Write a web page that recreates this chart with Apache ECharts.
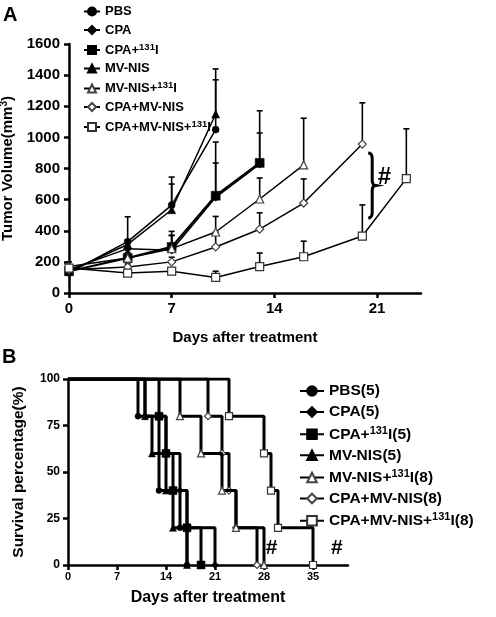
<!DOCTYPE html>
<html><head><meta charset="utf-8">
<script src="https://cdn.jsdelivr.net/npm/echarts@6/dist/echarts.min.js"></script>
<style>html,body{margin:0;padding:0;background:#fff}#c{width:496px;height:617px}</style>
</head><body><div id="c"></div>
<script>
// ---------- Panel A: tumor volume ----------
const daysA = [0, 4, 7, 10, 13, 16, 20, 23];
const namesA = ['PBS','CPA','CPA+131I','MV-NIS','MV-NIS+131I','CPA+MV-NIS','CPA+MV-NIS+131I'];
const pbsVol = [130, 330, 565, 1050];
const pbsErr = [20, 160, 180, 320];
const cpaVol = [150, 285, 275, 615, 828];
const cpaErr = [15, 40, 95, 220, 200];
const cpa131Vol = [140, 225, 296, 625, 836];
const cpa131Err = [20, 60, 100, 345, 335];
const mvVol = [140, 312, 535, 1150];
const mvErr = [15, 30, 165, 290];
const mv131Vol = [170, 225, 285, 392, 604, 823];
const mv131Err = [30, 35, 85, 100, 135, 300];
const cpaMvVol = [150, 167, 200, 296, 410, 578, 957];
const cpaMvErr = [10, 20, 30, 95, 105, 155, 265];
const cpaMv131Vol = [160, 128, 140, 100, 170, 233, 366, 735];
const cpaMv131Err = [20, 15, 20, 40, 87, 100, 200, 320];
const ticksA = [0, 7, 14, 21];

// ---------- Panel B: survival ----------
const namesB = ['PBS(5)','CPA(5)','CPA+131I(5)','MV-NIS(5)','MV-NIS+131I(8)','CPA+MV-NIS(8)','CPA+MV-NIS+131I(8)'];
const pbsT = [0, 10, 13, 16, 17],            pbsS = [100, 80, 40, 20, 0];
const cpaT = [0, 11, 14, 16, 17, 21],        cpaS = [100, 80, 60, 40, 20, 0];
const cpa131T = [0, 13, 14, 15, 17, 19],     cpa131S = [100, 80, 60, 40, 20, 0];
const mvT = [0, 11, 12, 14, 15, 17],         mvS = [100, 80, 60, 40, 20, 0];
const mv131T = [0, 16, 19, 22, 24, 28],      mv131S = [100, 80, 60, 40, 20, 0];
const cpaMvT = [0, 20, 22, 23, 24, 27],      cpaMvS = [100, 80, 60, 40, 20, 0];
const cpaMv131T = [0, 23, 28, 29, 30, 35],   cpaMv131S = [100, 80, 60, 40, 20, 0];
const ticksB = [0, 7, 14, 21, 28, 35];

const FONT = '"Liberation Sans", Arial, sans-serif';
const styles = [
  {symbol:'circle', size:7, fill:'#000', stroke:'#000'},
  {symbol:'diamond', size:8, fill:'#000', stroke:'#000'},
  {symbol:'rect', size:9, fill:'#000', stroke:'#000'},
  {symbol:'triangle', size:8, fill:'#000', stroke:'#000'},
  {symbol:'triangle', size:8, fill:'#fff', stroke:'#444'},
  {symbol:'diamond', size:8, fill:'#fff', stroke:'#444'},
  {symbol:'rect', size:8, fill:'#fff', stroke:'#333'}
];
const volsA = [pbsVol, cpaVol, cpa131Vol, mvVol, mv131Vol, cpaMvVol, cpaMv131Vol];
const errsA = [pbsErr, cpaErr, cpa131Err, mvErr, mv131Err, cpaMvErr, cpaMv131Err];
const Ts = [pbsT, cpaT, cpa131T, mvT, mv131T, cpaMvT, cpaMv131T];
const Ss = [pbsS, cpaS, cpa131S, mvS, mv131S, cpaMvS, cpaMv131S];

function errRender(params, api){
  const x = api.value(0), v = api.value(1), e = api.value(2);
  const p0 = api.coord([x, v]); const p1 = api.coord([x, v + e]);
  return {type:'group', children:[
    {type:'line', shape:{x1:p0[0],y1:p0[1],x2:p1[0],y2:p1[1]}, style:{stroke:'#000', lineWidth:1.6}},
    {type:'line', shape:{x1:p1[0]-3,y1:p1[1],x2:p1[0]+3,y2:p1[1]}, style:{stroke:'#000', lineWidth:1.6}}
  ]};
}

const series = [];
namesA.forEach((n, i) => {
  const st = styles[i];
  series.push({
    type:'custom', xAxisIndex:0, yAxisIndex:0, renderItem: errRender, z:1,
    encode:{x:0, y:1}, silent:true,
    data: volsA[i].map((v, k) => [daysA[k], v, errsA[i][k]])
  });
  series.push({
    name:n, type:'line', xAxisIndex:0, yAxisIndex:0, z:3,
    symbol: st.symbol, symbolSize: st.size, showSymbol:true,
    lineStyle:{color:'#000', width: i === 2 ? 2.2 : 1.5},
    itemStyle:{color: st.fill, borderColor: st.stroke, borderWidth: st.fill === '#fff' ? 1.2 : 0.5, opacity:1},
    data: volsA[i].map((v, k) => [daysA[k], v])
  });
});
namesB.forEach((n, i) => {
  const st = styles[i];
  series.push({
    name:n, type:'line', xAxisIndex:1, yAxisIndex:1, step:'end', z:3 + (7 - i),
    symbol: st.symbol, symbolSize: st.size - 1, showSymbol:true,
    lineStyle:{color:'#000', width:3},
    itemStyle:{color: st.fill, borderColor: st.stroke, borderWidth: st.fill === '#fff' ? 1.2 : 0.5, opacity:1},
    data: Ts[i].map((t, k) => k === 0 ? {value:[t, Ss[i][k]], symbol:'none'} : [t, Ss[i][k]])
  });
});

function fmt(name){
  const m = name.match(/^(.*)131I(.*)$/);
  if (m) return '{t|' + m[1] + '}{s|131}{t|I' + m[2] + '}';
  return '{t|' + name + '}';
}
function richFor(fs, ss){
  return {
    t:{fontSize:fs, fontWeight:'bold', fontFamily:FONT, color:'#000', lineHeight:fs+3},
    s:{fontSize:ss, fontWeight:'bold', fontFamily:FONT, color:'#000', lineHeight:ss, verticalAlign:'top'}
  };
}
const axisLine = {show:true, lineStyle:{color:'#000', width:2.5}};
const tick = {show:true, inside:false, length:5, lineStyle:{color:'#000', width:2.5}};
const plain = v => String(v);

const option = {
  animation:false,
  backgroundColor:'#fff',
  grid:[
    {left:69, top:44, width:352, height:249, containLabel:false, outerBoundsMode:'none'},
    {left:68, top:379, width:280, height:186, containLabel:false, outerBoundsMode:'none'}
  ],
  xAxis:[
    {type:'value', gridIndex:0, min:0, max:24, splitLine:{show:false}, axisLine,
     axisTick:Object.assign({customValues:ticksA}, tick),
     axisLabel:{customValues:ticksA, formatter:plain, fontSize:15, fontWeight:'bold', fontFamily:FONT, color:'#000', margin:8},
     name:'Days after treatment', nameLocation:'middle', nameGap:37,
     nameTextStyle:{fontSize:15, fontWeight:'bold', fontFamily:FONT, color:'#000'}},
    {type:'value', gridIndex:1, min:0, max:40, splitLine:{show:false}, axisLine,
     axisTick:Object.assign({customValues:ticksB}, tick),
     axisLabel:{customValues:ticksB, formatter:plain, fontSize:11, fontWeight:'bold', fontFamily:FONT, color:'#000', margin:6},
     name:'Days after treatment', nameLocation:'middle', nameGap:25,
     nameTextStyle:{fontSize:16, fontWeight:'bold', fontFamily:FONT, color:'#000'}}
  ],
  yAxis:[
    {type:'value', gridIndex:0, min:0, max:1600, interval:200, splitLine:{show:false}, axisLine,
     axisTick:tick,
     axisLabel:{formatter:plain, fontSize:15, fontWeight:'bold', fontFamily:FONT, color:'#000', margin:9},
     name:'{a|Tumor Volume(mm}{s|3}{a|)}', nameLocation:'middle', nameGap:44, nameRotate:90,
     nameTextStyle:{rich:{
       a:{fontSize:15, fontWeight:'bold', fontFamily:FONT, color:'#000', lineHeight:18},
       s:{fontSize:10, fontWeight:'bold', fontFamily:FONT, color:'#000', lineHeight:10, verticalAlign:'top'}}}},
    {type:'value', gridIndex:1, min:0, max:100, interval:25, splitLine:{show:false}, axisLine,
     axisTick:tick,
     axisLabel:{formatter:plain, fontSize:12, fontWeight:'bold', fontFamily:FONT, color:'#000', margin:8},
     name:'Survival percentage(%)', nameLocation:'middle', nameGap:41, nameRotate:90,
     nameTextStyle:{fontSize:15.5, fontWeight:'bold', fontFamily:FONT, color:'#000'}}
  ],
  legend:[
    {data:namesA, orient:'vertical', left:78, top:0, itemWidth:16, itemHeight:10, itemGap:5.5,
     formatter:fmt, textStyle:{rich:richFor(13, 9.5)}, selectedMode:false},
    {data:namesB, orient:'vertical', left:294, top:378, itemWidth:24, itemHeight:12, itemGap:5,
     formatter:fmt, textStyle:{rich:richFor(15.5, 11)}, selectedMode:false}
  ],
  series
};

const chart = echarts.init(document.getElementById('c'), null, {renderer:'canvas'});
chart.setOption(option);

// curly brace annotation (annotation, positioned from the axes)
const pTop = chart.convertToPixel({gridIndex:0}, [20.4, 900]);
const pBot = chart.convertToPixel({gridIndex:0}, [20.4, 482]);
const x0 = pTop[0], yT = pTop[1], yB = pBot[1], yM = (yT + yB) / 2;
function quad(p0, p1, p2, n){
  const out = [];
  for (let k = 1; k <= n; k++){
    const t = k / n, u = 1 - t;
    out.push([u*u*p0[0] + 2*u*t*p1[0] + t*t*p2[0], u*u*p0[1] + 2*u*t*p1[1] + t*t*p2[1]]);
  }
  return out;
}
let pts = [[x0, yT]];
pts = pts.concat(quad([x0, yT], [x0+4, yT], [x0+4, yT+6], 5));
pts.push([x0+4, yM-5]);
pts = pts.concat(quad([x0+4, yM-5], [x0+4, yM], [x0+8, yM], 4));
pts = pts.concat(quad([x0+8, yM], [x0+4, yM], [x0+4, yM+5], 4));
pts.push([x0+4, yB-6]);
pts = pts.concat(quad([x0+4, yB-6], [x0+4, yB], [x0, yB], 5));

const hashA = chart.convertToPixel({gridIndex:0}, [21.5, 740]);
const hashB1 = chart.convertToPixel({gridIndex:1}, [29.1, 9]);
const hashB2 = chart.convertToPixel({gridIndex:1}, [38.4, 9]);
const tStyle = (fs) => ({fontSize:fs, fontWeight:'bold', fontFamily:FONT, fill:'#000'});
chart.setOption({graphic:[
  {type:'polyline', shape:{points:pts}, style:{stroke:'#000', lineWidth:3, fill:null}},
  {type:'text', x:hashA[0], y:hashA[1], style:Object.assign({text:'#', align:'center', verticalAlign:'middle'}, tStyle(24))},
  {type:'text', x:hashB1[0], y:hashB1[1], style:Object.assign({text:'#', align:'center', verticalAlign:'middle'}, tStyle(21))},
  {type:'text', x:hashB2[0], y:hashB2[1], style:Object.assign({text:'#', align:'center', verticalAlign:'middle'}, tStyle(21))},
  {type:'text', x:3, y:5, style:Object.assign({text:'A'}, tStyle(20))},
  {type:'text', x:2, y:347, style:Object.assign({text:'B'}, tStyle(20))}
]});
</script></body></html>
